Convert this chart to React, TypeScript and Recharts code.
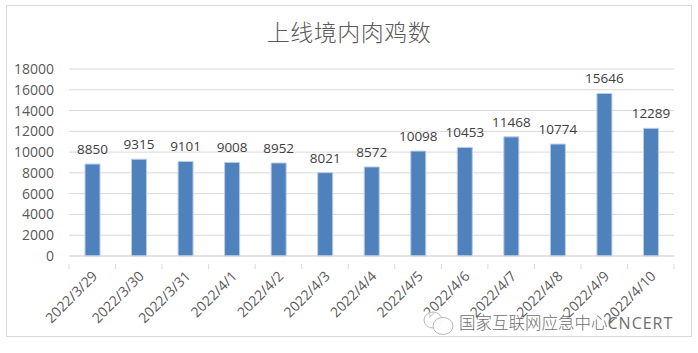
import { BarChart, Bar, CartesianGrid, LabelList, XAxis, YAxis } from "recharts";

const dates = [
  "2022/3/29", "2022/3/30", "2022/3/31", "2022/4/1", "2022/4/2", "2022/4/3", "2022/4/4",
  "2022/4/5", "2022/4/6", "2022/4/7", "2022/4/8", "2022/4/9", "2022/4/10",
];
const counts = [8850, 9315, 9101, 9008, 8952, 8021, 8572, 10098, 10453, 11468, 10774, 15646, 12289];
const yTicks = [0, 2000, 4000, 6000, 8000, 10000, 12000, 14000, 16000, 18000];

const data = dates.map((date, i) => ({ date, count: counts[i] }));

const FONT = '"Open Sans", "Noto Sans CJK SC", sans-serif';
const PLOT_WIDTH = 605;

function DateTick({ x, y, payload, index }: any) {
  const step = PLOT_WIDTH / dates.length;
  return (
    <g>
      <line x1={x - step / 2} x2={x - step / 2} y1={y} y2={y + 5} stroke="#d9d9d9" />
      {index === dates.length - 1 && (
        <line x1={x + step / 2} x2={x + step / 2} y1={y} y2={y + 5} stroke="#d9d9d9" />
      )}
      <text
        x={x + 6}
        y={y + 13}
        textAnchor="end"
        fontSize={14}
        fontFamily={FONT}
        fill="#595959"
        transform={`rotate(-45 ${x + 6} ${y + 13})`}
      >
        {payload.value}
      </text>
    </g>
  );
}

export default function App() {
  return (
    <div style={{ position: "absolute", left: 0, top: 0, width: 698, height: 353, background: "#fff", overflow: "hidden" }}>
      <div style={{ position: "absolute", left: 6, top: 5, width: 684, height: 330, border: "1px solid #d9d9d9" }} />
      <div
        style={{
          position: "absolute",
          left: 0,
          width: 698,
          top: 14,
          textAlign: "center",
          fontFamily: '"Noto Sans CJK SC", sans-serif',
          fontWeight: 300,
          fontSize: 23,
          letterSpacing: 0.5,
          color: "#595959",
        }}
      >
        上线境内肉鸡数
      </div>
      <div style={{ position: "absolute", left: 0, top: 0 }}>
        <BarChart
          width={698}
          height={353}
          data={data}
          margin={{ top: 69, right: 24, bottom: 0, left: 0 }}
        >
          <CartesianGrid vertical={false} stroke="#d9d9d9" />
          <XAxis
            dataKey="date"
            interval={0}
            height={97}
            stroke="#d9d9d9"
            tickLine={false}
            tick={<DateTick />}
          />
          <YAxis
            width={69}
            domain={[0, 18000]}
            ticks={yTicks}
            interval={0}
            axisLine={false}
            tickLine={false}
            tickMargin={9}
            tick={{ fontSize: 14, fontFamily: FONT, fill: "#595959" }}
          />
          <Bar dataKey="count" barSize={15} fill="#4f81bd" stroke="#b9cde5" strokeWidth={1} isAnimationActive={false}>
            <LabelList dataKey="count" position="top" offset={10} fontSize={13.5} fontFamily={FONT} fill="#404040" />
          </Bar>
        </BarChart>
      </div>
      <svg style={{ position: "absolute", left: 422, top: 308 }} width={34} height={30}>
        <ellipse cx={11} cy={12} rx={9} ry={8} fill="#fff" fillOpacity={0.7} stroke="#bbb" />
        <ellipse cx={21} cy={18} rx={10} ry={8.5} fill="#fff" fillOpacity={0.85} stroke="#bbb" />
      </svg>
      <div
        style={{
          position: "absolute",
          left: 459,
          top: 310,
          whiteSpace: "nowrap",
          fontFamily: '"Noto Sans CJK SC", sans-serif',
          fontWeight: 300,
          fontSize: 16.5,
          lineHeight: "24px",
          color: "#6e6e6e",
        }}
      >
        国家互联网应急中心
        <span style={{ fontSize: 16, fontFamily: FONT, fontWeight: 400, letterSpacing: 1 }}>CNCERT</span>
      </div>
    </div>
  );
}
